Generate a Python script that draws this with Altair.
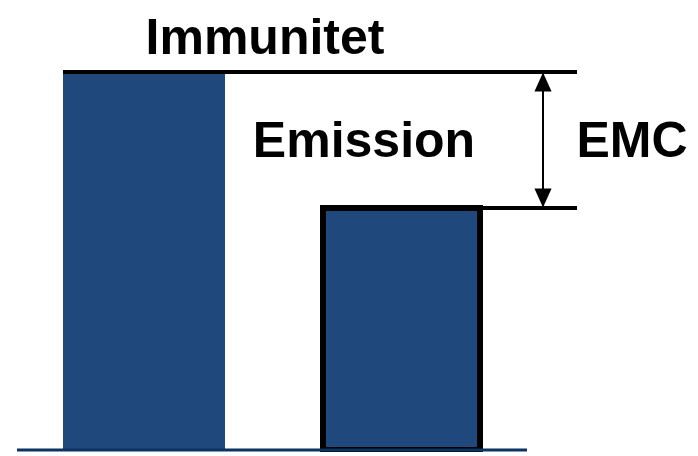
import altair as alt
import pandas as pd

# Schematic: immunity level vs emission level, EMC margin between them
categories = ["Immunitet", "Emission"]
levels = [100, 64]
bar_start = [55, 315]
bar_end = [217, 472]

labels = ["Immunitet", "Emission", "EMC"]
label_x = [257, 356, 624]
label_y = [104.8, 77.6, 77.6]

line_start = [55, 315]
line_end = [569, 569]
arrow_x = 535
base_start, base_end = 9, 519

xs = alt.Scale(domain=[0, 690], range=[0, 690], nice=False, zero=False)
ys = alt.Scale(domain=[0, 100], range=[442, 64], nice=False, zero=False)

bars = pd.DataFrame({"cat": categories, "level": levels, "x0": bar_start, "x1": bar_end, "y0": [0, 0]})
lines = pd.DataFrame({"x0": line_start, "x1": line_end, "level": levels})
texts = pd.DataFrame({"label": labels, "x": label_x, "y": label_y})
arrow = pd.DataFrame({"x": [arrow_x], "top": [levels[0]], "bot": [levels[1]]})
base = pd.DataFrame({"x0": [base_start], "x1": [base_end], "y": [0]})

X = lambda f: alt.X(f, type="quantitative", scale=xs, axis=None)
Y = lambda f: alt.Y(f, type="quantitative", scale=ys, axis=None)

bar_imm = alt.Chart(bars[bars.cat == "Immunitet"]).mark_rect(color="#1F497D").encode(
    x=X("x0"), x2="x1", y=Y("y0"), y2="level")
bar_emi = alt.Chart(bars[bars.cat == "Emission"]).mark_rect(
    color="#1F497D", stroke="black", strokeWidth=6).encode(
    x=X("x0"), x2="x1", y=Y("y0"), y2="level")

hlines = alt.Chart(lines).mark_rule(color="black", strokeWidth=4).encode(
    x=X("x0"), x2="x1", y=Y("level"))

baseline = alt.Chart(base).mark_rule(color="#0c3364", strokeWidth=3).encode(
    x=X("x0"), x2="x1", y=Y("y"))

shaft = alt.Chart(arrow).mark_rule(color="black", strokeWidth=2).encode(
    x=X("x"), y=Y("top"), y2="bot")
head_up = alt.Chart(arrow).mark_point(
    shape="M0,-1L-0.9,1L0.9,1Z", filled=True, color="black", opacity=1, size=361, yOffset=10, strokeWidth=0
).encode(x=X("x"), y=Y("top"))
head_dn = alt.Chart(arrow).mark_point(
    shape="M0,1L-0.9,-1L0.9,-1Z", filled=True, color="black", opacity=1, size=361, yOffset=-10, strokeWidth=0
).encode(x=X("x"), y=Y("bot"))

txt = alt.Chart(texts).mark_text(
    font="Liberation Sans", fontWeight="bold", fontSize=50, align="center", baseline="alphabetic", color="black"
).encode(x=X("x"), y=Y("y"), text="label:N")

chart = alt.layer(bar_imm, hlines, bar_emi, baseline, shaft, head_up, head_dn, txt).properties(
    width=682, height=444, autosize=alt.AutoSizeParams(type="none"), padding=0
).configure_view(stroke=None)

chart.save("out.html", embed_options={"renderer": "svg", "actions": False})
